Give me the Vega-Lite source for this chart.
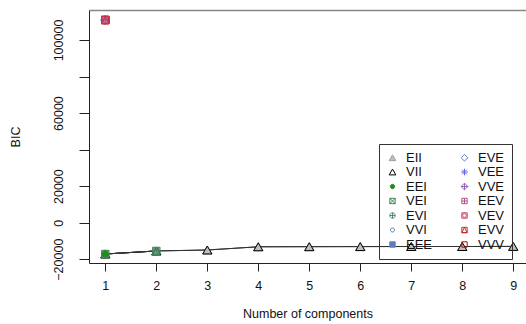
{
  "$schema": "https://vega.github.io/schema/vega-lite/v6.json",
  "width": 437,
  "height": 253,
  "autosize": "none",
  "padding": {"left": 89, "top": 10, "right": 0, "bottom": 61},
  "background": "white",
  "config": {
    "view": {"stroke": null},
    "font": "Liberation Sans",
    "axis": {"grid": false, "domainColor": "#222", "tickColor": "#222", "labelColor": "#111", "titleColor": "#111", "titleFontWeight": "normal", "labelFontSize": 12.5, "titleFontSize": 12.5},
    "legend": {"orient": "none", "legendX": 290, "legendY": 134, "columns": 2, "strokeColor": "#333", "padding": 7, "symbolSize": 45, "labelFontSize": 13, "rowPadding": 0.5, "columnPadding": 25, "labelOffset": 7, "symbolStrokeWidth": 1, "labelColor": "#111"}
  },
  "data": {"values": [
    {"model": "EII", "k": 1, "BIC": -17150},
    {"model": "EII", "k": 2, "BIC": -15500},
    {"model": "EII", "k": 3, "BIC": -14960},
    {"model": "EII", "k": 4, "BIC": -13200},
    {"model": "EII", "k": 5, "BIC": -13150},
    {"model": "EII", "k": 6, "BIC": -13100},
    {"model": "EII", "k": 7, "BIC": -13050},
    {"model": "EII", "k": 8, "BIC": -13050},
    {"model": "EII", "k": 9, "BIC": -13000},
    {"model": "VII", "k": 1, "BIC": -17150},
    {"model": "VII", "k": 2, "BIC": -15500},
    {"model": "VII", "k": 3, "BIC": -14960},
    {"model": "VII", "k": 4, "BIC": -13200},
    {"model": "VII", "k": 5, "BIC": -13150},
    {"model": "VII", "k": 6, "BIC": -13100},
    {"model": "VII", "k": 7, "BIC": -13050},
    {"model": "VII", "k": 8, "BIC": -13050},
    {"model": "VII", "k": 9, "BIC": -13000},
    {"model": "VVI", "k": 1, "BIC": -17150},
    {"model": "VVI", "k": 2, "BIC": -15500},
    {"model": "EVI", "k": 1, "BIC": -17150},
    {"model": "EVI", "k": 2, "BIC": -15500},
    {"model": "VEI", "k": 1, "BIC": -17150},
    {"model": "VEI", "k": 2, "BIC": -15500},
    {"model": "EEI", "k": 1, "BIC": -17150},
    {"model": "VEE", "k": 1, "BIC": 110950},
    {"model": "VVE", "k": 1, "BIC": 110950},
    {"model": "EEV", "k": 1, "BIC": 110950},
    {"model": "EVV", "k": 1, "BIC": 110950},
    {"model": "VVV", "k": 1, "BIC": 110950},
    {"model": "VEV", "k": 1, "BIC": 110950}
  ]},
  "encoding": {
    "x": {"field": "k", "type": "quantitative", "scale": {"domain": [0.68, 9.25], "nice": false, "zero": false}},
    "y": {"field": "BIC", "type": "quantitative", "scale": {"domain": [-22080, 116420], "nice": false, "zero": false},
      "axis": {"values": [-20000, 0, 20000, 40000, 60000, 80000, 100000], "format": "d", "labelExpr": "datum.value == 40000 || datum.value == 80000 ? '' : datum.label", "labelAngle": 270, "labelAlign": "center", "labelBaseline": "bottom", "tickSize": 10, "labelPadding": 14, "title": "BIC", "titlePadding": 30}}
  },
  "layer": [
    {
      "mark": {"type": "line", "strokeWidth": 1, "color": "#333"},
      "encoding": {
        "detail": {"field": "model", "type": "nominal"},
        "x": {"field": "k", "type": "quantitative", "scale": {"domain": [0.68, 9.25], "nice": false, "zero": false}, "axis": {"orient": "top", "labels": false, "ticks": false, "title": null, "domainColor": "#888", "domainWidth": 1.5}}
      }
    },
    {
      "mark": {"type": "point", "size": 85, "strokeWidth": 1, "opacity": 1},
      "encoding": {
        "x": {"field": "k", "type": "quantitative", "scale": {"domain": [0.68, 9.25], "nice": false, "zero": false}, "axis": {"orient": "bottom", "values": [1,2,3,4,5,6,7,8,9], "tickSize": 8, "labelPadding": 8, "title": "Number of components", "titlePadding": 16}},
        "stroke": {"field": "model", "type": "nominal", "title": null,
          "scale": {"domain": ["EII","VII","EEI","VEI","EVI","VVI","EEE","EVE","VEE","VVE","EEV","VEV","EVV","VVV"],
                    "range": ["#A0A0A0","#000000","#218B21","#41884F","#508476","#58819C","#597DC3","#597DC3","#6A6AE8","#9B60B8","#B2508B","#C03F60","#C82A36","#CC0000"]}},
        "fill": {"field": "model", "type": "nominal", "title": null,
          "scale": {"domain": ["EII","VII","EEI","VEI","EVI","VVI","EEE","EVE","VEE","VVE","EEV","VEV","EVV","VVV"],
                    "range": ["#BEBEBE","transparent","#218B21","transparent","transparent","transparent","#597DC3","transparent","transparent","transparent","transparent","transparent","transparent","transparent"]}},
        "shape": {"field": "model", "type": "nominal", "title": null,
          "scale": {"domain": ["EII","VII","EEI","VEI","EVI","VVI","EEE","EVE","VEE","VVE","EEV","VEV","EVV","VVV"],
                    "range": ["triangle-up","triangle-up","M-0.65,0A0.65,0.65,0,1,1,0.65,0A0.65,0.65,0,1,1,-0.65,0Z","M-0.8,-0.8H0.8V0.8H-0.8ZM-0.8,-0.8L0.8,0.8M-0.8,0.8L0.8,-0.8","M-0.8,0A0.8,0.8,0,1,1,0.8,0A0.8,0.8,0,1,1,-0.8,0ZM-0.8,0H0.8M0,-0.8V0.8","M-0.6,0A0.6,0.6,0,1,1,0.6,0A0.6,0.6,0,1,1,-0.6,0Z","M-0.8,-0.8H0.8V0.8H-0.8Z","M0,-1L1,0L0,1L-1,0Z","M-1,0H1M0,-1V1M-0.7,-0.7L0.7,0.7M-0.7,0.7L0.7,-0.7","M0,-1L1,0L0,1L-1,0ZM-1,0H1M0,-1V1","M-0.8,-0.8H0.8V0.8H-0.8ZM-0.8,0H0.8M0,-0.8V0.8","M-0.8,-0.8H0.8V0.8H-0.8ZM-0.55,0A0.55,0.55,0,1,1,0.55,0A0.55,0.55,0,1,1,-0.55,0Z","M-0.8,-0.8H0.8V0.8H-0.8ZM-0.8,0.8L0,-0.8L0.8,0.8Z","M-0.8,-0.8H0.8V0.8H-0.8Z"]}}
      }
    }
  ],
  "resolve": {"axis": {"x": "independent"}}
}
